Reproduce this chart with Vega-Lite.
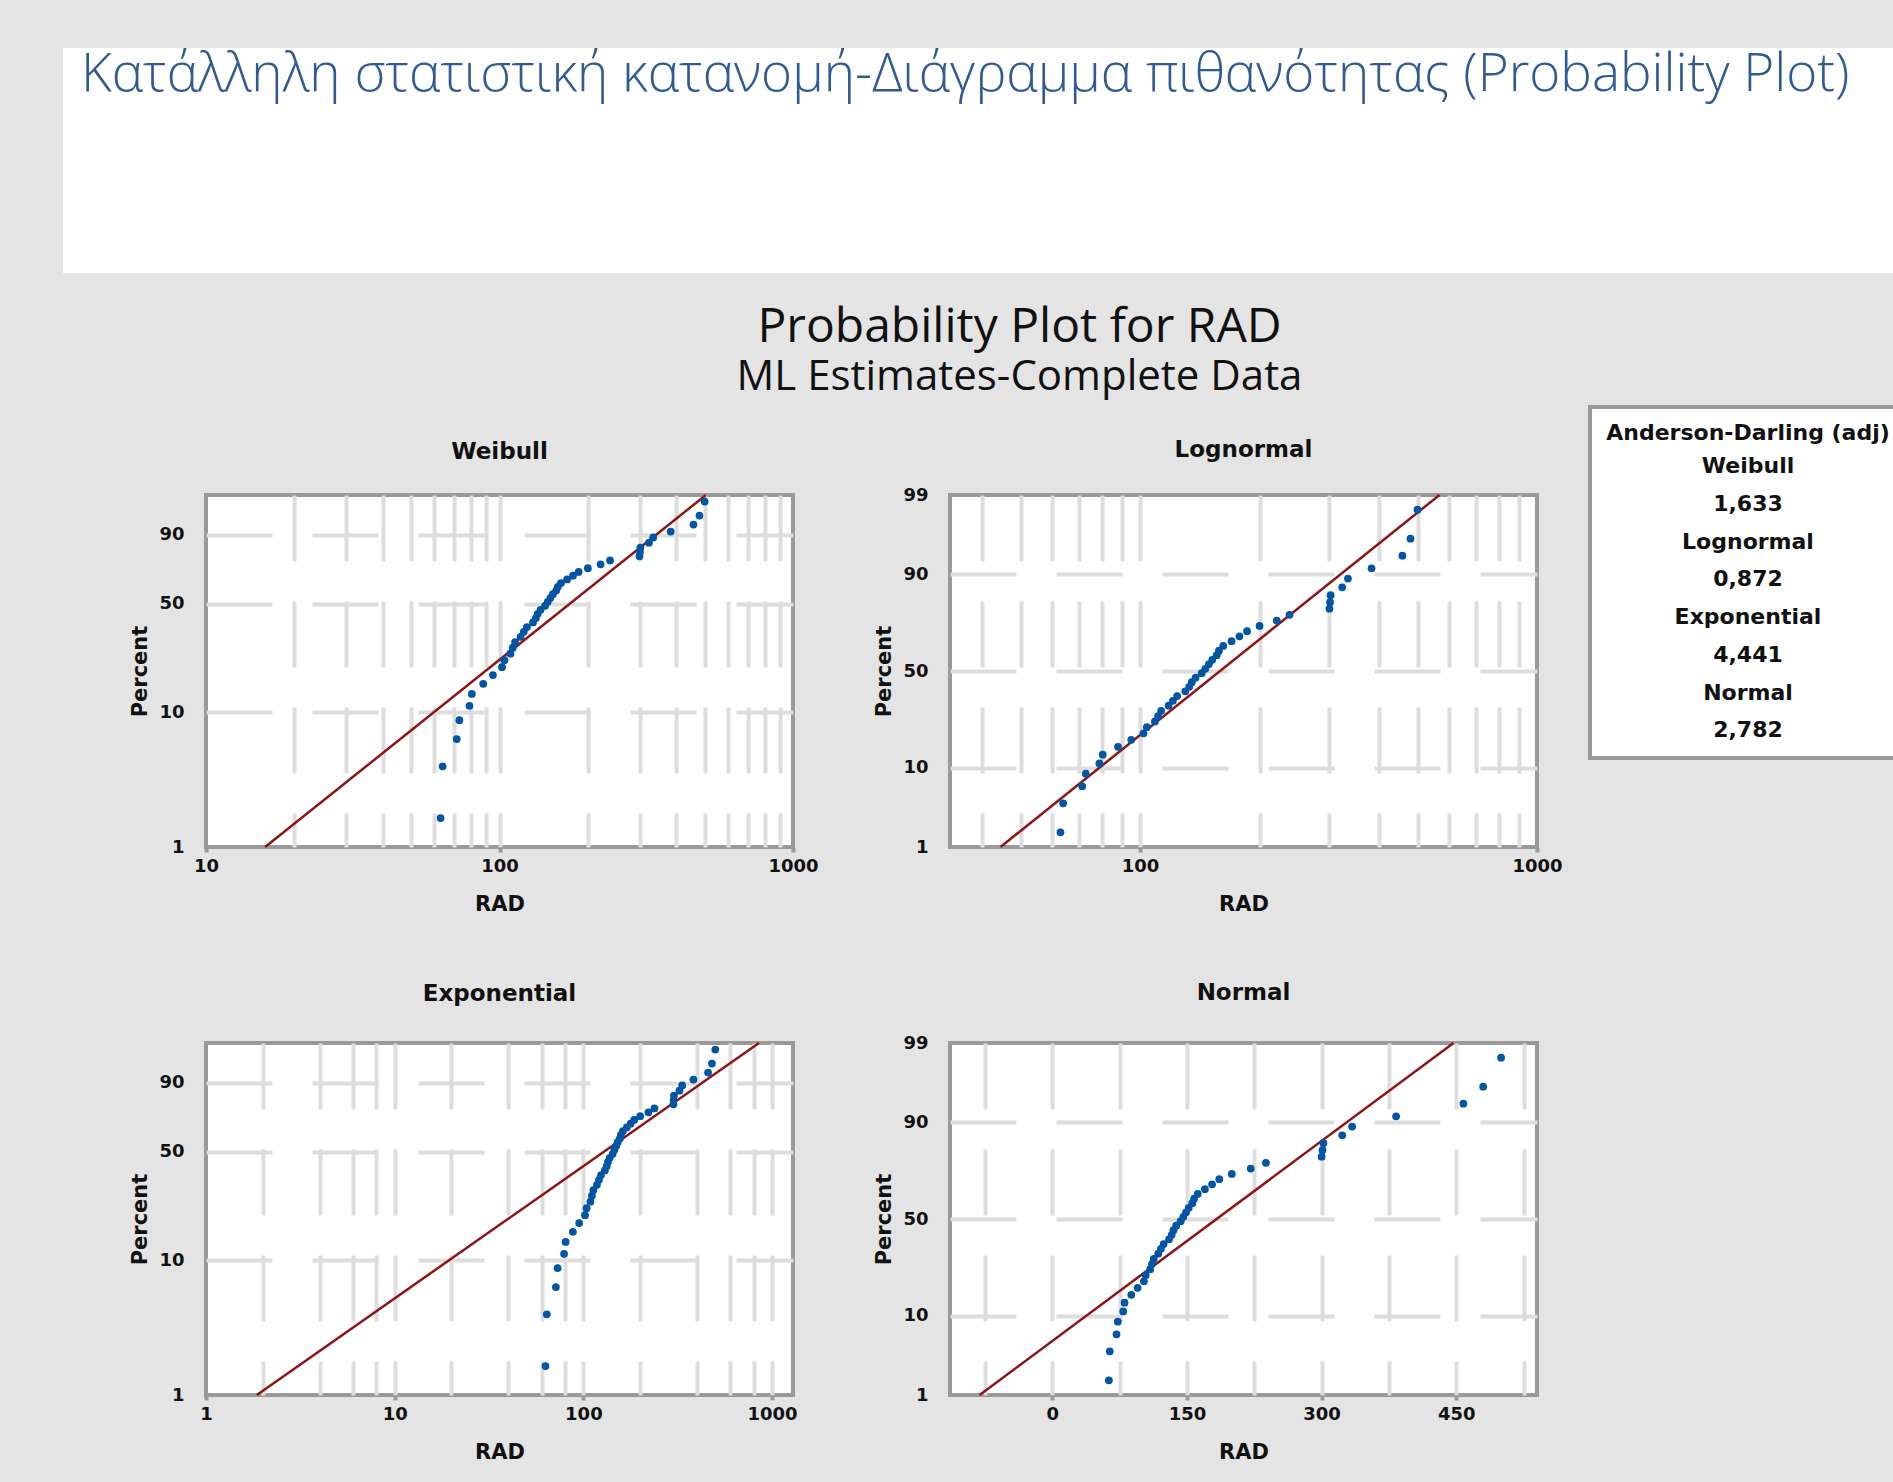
{
  "$schema": "https://vega.github.io/schema/vega-lite/v6.json",
  "autosize": "none",
  "padding": {"left": 63, "top": 48, "right": 1830, "bottom": 1434},
  "background": "#e4e4e4",
  "config": {
    "view": {"stroke": null},
    "font": "DejaVu Sans",
    "axis": {
      "labelFont": "DejaVu Sans", "labelFontWeight": "bold", "labelFontSize": 18, "labelColor": "#111111",
      "titleFont": "DejaVu Sans", "titleFontWeight": "bold", "titleFontSize": 21, "titleColor": "#111111",
      "domain": false, "gridColor": "#dddddd", "gridWidth": 4, "gridDash": [66, 40],
      "labelFlush": false, "labelOverlap": false, "tickColor": "#999999", "tickWidth": 4
    },
    "axisX": {"tickSize": 5, "labelPadding": 5, "titlePadding": 18},
    "axisY": {"ticks": false, "tickSize": 0, "labelPadding": 22, "titlePadding": 8}
  },
  "datasets": {
    "pts": [
      {"RAD": 63, "Percent": 1.65}, {"RAD": 64, "Percent": 4.01}, {"RAD": 71.5, "Percent": 6.37},
      {"RAD": 73, "Percent": 8.73}, {"RAD": 79, "Percent": 11.08}, {"RAD": 80.5, "Percent": 13.44},
      {"RAD": 88, "Percent": 15.8}, {"RAD": 95, "Percent": 18.16}, {"RAD": 102, "Percent": 20.52},
      {"RAD": 104, "Percent": 22.88}, {"RAD": 109, "Percent": 25.24}, {"RAD": 111, "Percent": 27.59},
      {"RAD": 113, "Percent": 29.95}, {"RAD": 118, "Percent": 32.31}, {"RAD": 121, "Percent": 34.67},
      {"RAD": 124, "Percent": 37.03}, {"RAD": 130, "Percent": 39.39}, {"RAD": 133, "Percent": 41.75},
      {"RAD": 135, "Percent": 44.1}, {"RAD": 138, "Percent": 46.46}, {"RAD": 143, "Percent": 48.82},
      {"RAD": 146, "Percent": 51.18}, {"RAD": 149, "Percent": 53.54}, {"RAD": 152, "Percent": 55.9},
      {"RAD": 156, "Percent": 58.25}, {"RAD": 158, "Percent": 60.61}, {"RAD": 162, "Percent": 62.97},
      {"RAD": 170, "Percent": 65.33}, {"RAD": 178, "Percent": 67.69}, {"RAD": 186, "Percent": 70.05},
      {"RAD": 200, "Percent": 72.41}, {"RAD": 221, "Percent": 74.76}, {"RAD": 238, "Percent": 77.12},
      {"RAD": 300, "Percent": 79.48}, {"RAD": 301, "Percent": 81.84}, {"RAD": 302, "Percent": 84.2},
      {"RAD": 323, "Percent": 86.56}, {"RAD": 334, "Percent": 88.92}, {"RAD": 383, "Percent": 91.27},
      {"RAD": 458, "Percent": 93.63}, {"RAD": 480, "Percent": 95.99}, {"RAD": 500, "Percent": 98.35}
    ],
    "fit": [
      {"dist": "W", "RAD": 15.9, "Percent": 1}, {"dist": "W", "RAD": 505, "Percent": 99},
      {"dist": "L", "RAD": 44.5, "Percent": 1}, {"dist": "L", "RAD": 568, "Percent": 99},
      {"dist": "E", "RAD": 1.86, "Percent": 1}, {"dist": "E", "RAD": 852, "Percent": 99},
      {"dist": "N", "RAD": -81, "Percent": 1}, {"dist": "N", "RAD": 447, "Percent": 99}
    ],
    "ad": [
      {"k": 1, "t": "Weibull"}, {"k": 2, "t": "1,633"},
      {"k": 3, "t": "Lognormal"}, {"k": 4, "t": "0,872"}, {"k": 5, "t": "Exponential"},
      {"k": 6, "t": "4,441"}, {"k": 7, "t": "Normal"}, {"k": 8, "t": "2,782"}
    ]
  },
  "columns": 6,
  "align": "each",
  "bounds": "flush",
  "spacing": {"row": 196, "column": 0},
  "concat": [
    {
      "width": 143, "height": 225,
      "view": {"fill": "#ffffff"},
      "title": {"text": "Probability Plot for RAD", "subtitle": "ML Estimates-Complete Data", "orient": "bottom", "anchor": "middle", "frame": "group", "offset": 69, "dx": 885, "baseline": "alphabetic", "font": "Open Sans", "fontSize": 48, "fontWeight": "normal", "color": "#111111", "subtitleFont": "Open Sans", "subtitleFontSize": 42, "subtitleColor": "#111111", "subtitlePadding": 0, "limit": 3000},
      "data": {"values": [{}]}, "mark": {"type": "point", "opacity": 0}, "encoding": {}
    },
    {"width": 587, "height": 225, "view": {"fill": "#ffffff"}, "data": {"values": [{}]}, "mark": {"type": "point", "opacity": 0}, "encoding": {}},
    {"width": 157, "height": 225, "view": {"fill": "#ffffff"}, "data": {"values": [{}]}, "mark": {"type": "point", "opacity": 0}, "encoding": {}},
    {"width": 587, "height": 225, "view": {"fill": "#ffffff"}, "data": {"values": [{}]}, "mark": {"type": "point", "opacity": 0}, "encoding": {}},
    {"width": 356, "height": 225, "view": {"fill": "#ffffff"}, "data": {"values": [{}]}, "mark": {"type": "point", "opacity": 0}, "encoding": {}},
    {
      "width": 1, "height": 251,
      "title": {"text": "Κατάλληλη στατιστική κατανομή-Διάγραμμα πιθανότητας (Probability Plot)", "orient": "bottom", "anchor": "start", "frame": "group", "offset": -208, "dx": -1812, "baseline": "alphabetic", "font": "Open Sans", "fontWeight": 300, "fontSize": 53, "color": "#2f5a96", "limit": 3000},
      "data": {"values": [{}]}, "mark": {"type": "point", "opacity": 0}, "encoding": {}
    },

    {"width": 143, "height": 1, "data": {"values": [{}]}, "mark": {"type": "point", "opacity": 0}, "encoding": {}},
    {
      "width": 587, "height": 352,
      "view": {"fill": "#ffffff", "stroke": "#999999", "strokeWidth": 4},
      "title": {"text": "Weibull", "offset": 8, "anchor": "middle", "frame": "group", "baseline": "alphabetic", "font": "DejaVu Sans", "fontWeight": "bold", "fontSize": 23, "color": "#111111"},
      "encoding": {
        "x": {"field": "RAD", "type": "quantitative", "scale": {"type": "log", "domain": [10, 1000], "nice": false},
          "axis": {"title": "RAD", "values": [10, 20, 30, 40, 50, 60, 70, 80, 90, 100, 200, 300, 400, 500, 600, 700, 800, 900, 1000],
            "labelExpr": "indexof([10,100,1000], datum.value) >= 0 ? format(datum.value, 'd') : ''",
            "tickOpacity": {"condition": {"test": "indexof([10,100,1000], datum.value) >= 0", "value": 1}, "value": 0},
            "gridOpacity": {"condition": {"test": "datum.value <= 10 || datum.value >= 1000", "value": 0}, "value": 1}}},
        "y": {"field": "Y", "type": "quantitative", "scale": {"domain": [-4.60015, 1.52718], "nice": false, "zero": false},
          "axis": {"title": "Percent", "values": [-4.60015, -2.25037, -0.36651, 0.83403],
            "labelExpr": "format(100*(1-exp(-exp(datum.value))), '.0f')",
            "gridOpacity": {"condition": {"test": "datum.value < -4.5", "value": 0}, "value": 1}}}
      },
      "layer": [
        {"data": {"name": "fit"}, "transform": [{"filter": "datum.dist == 'W'"}, {"calculate": "log(-log(1 - datum.Percent/100))", "as": "Y"}],
          "mark": {"type": "line", "color": "#8f1515", "strokeWidth": 2.5}},
        {"data": {"name": "pts"}, "transform": [{"calculate": "log(-log(1 - datum.Percent/100))", "as": "Y"}],
          "mark": {"type": "point", "shape": "circle", "filled": true, "size": 60, "color": "#0055a5", "opacity": 1}}
      ]
    },
    {
      "width": 157, "height": 1,
      "data": {"name": "ad"},
      "mark": {"type": "text", "opacity": 0},
      "encoding": {
        "text": {"field": "t", "type": "nominal"},
        "color": {"field": "t", "type": "nominal", "sort": {"field": "k", "op": "min"}, "scale": {"range": ["#111111"]},
          "legend": {"orient": "none", "legendX": 1527, "legendY": 359, "direction": "vertical",
            "title": "Anderson-Darling (adj)", "titleFont": "DejaVu Sans", "titleFontWeight": "bold", "titleFontSize": 22, "titleColor": "#111111",
            "titleAnchor": "middle", "titleAlign": "center", "titlePadding": 10, "titleLimit": 500,
            "labelFont": "DejaVu Sans", "labelFontWeight": "bold", "labelFontSize": 22, "labelColor": "#111111",
            "labelAlign": "center", "labelOffset": 52, "labelLimit": 500,
            "symbolSize": 0, "symbolOpacity": 0, "rowPadding": 15.75,
            "padding": 16, "fillColor": "#ffffff", "strokeColor": "#999999",
            "encode": {"legend": {"update": {"strokeWidth": {"value": 4}}}}}}
      }
    },
    {
      "width": 587, "height": 352,
      "view": {"fill": "#ffffff", "stroke": "#999999", "strokeWidth": 4},
      "title": {"text": "Lognormal", "offset": 6, "anchor": "middle", "frame": "group", "baseline": "alphabetic", "font": "DejaVu Sans", "fontWeight": "bold", "fontSize": 23, "color": "#111111"},
      "encoding": {
        "x": {"field": "RAD", "type": "quantitative", "scale": {"type": "log", "domain": [33.2, 1000], "nice": false},
          "axis": {"title": "RAD", "values": [40, 50, 60, 70, 80, 90, 100, 200, 300, 400, 500, 600, 700, 800, 900, 1000],
            "labelExpr": "indexof([100,1000], datum.value) >= 0 ? format(datum.value, 'd') : ''",
            "tickOpacity": {"condition": {"test": "indexof([100,1000], datum.value) >= 0", "value": 1}, "value": 0},
            "gridOpacity": {"condition": {"test": "datum.value >= 1000", "value": 0}, "value": 1}}},
        "y": {"field": "Y", "type": "quantitative", "scale": {"domain": [-2.32635, 2.32635], "nice": false, "zero": false},
          "axis": {"title": "Percent", "values": [-2.32635, -1.28155, 0, 1.28155, 2.32635],
            "labelExpr": "format(100*cumulativeNormal(datum.value), '.0f')",
            "gridOpacity": {"condition": {"test": "abs(datum.value) > 2", "value": 0}, "value": 1}}}
      },
      "layer": [
        {"data": {"name": "fit"}, "transform": [{"filter": "datum.dist == 'L'"}, {"calculate": "quantileNormal(datum.Percent/100)", "as": "Y"}],
          "mark": {"type": "line", "color": "#8f1515", "strokeWidth": 2.5}},
        {"data": {"name": "pts"}, "transform": [{"calculate": "quantileNormal(datum.Percent/100)", "as": "Y"}],
          "mark": {"type": "point", "shape": "circle", "filled": true, "size": 60, "color": "#0055a5", "opacity": 1}}
      ]
    },
    {"width": 1, "height": 1, "data": {"values": [{}]}, "mark": {"type": "point", "opacity": 0}, "encoding": {}},
    {"width": 1, "height": 1, "data": {"values": [{}]}, "mark": {"type": "point", "opacity": 0}, "encoding": {}},

    {"width": 143, "height": 1, "data": {"values": [{}]}, "mark": {"type": "point", "opacity": 0}, "encoding": {}},
    {
      "width": 587, "height": 352,
      "view": {"fill": "#ffffff", "stroke": "#999999", "strokeWidth": 4},
      "title": {"text": "Exponential", "offset": 14, "anchor": "middle", "frame": "group", "baseline": "alphabetic", "font": "DejaVu Sans", "fontWeight": "bold", "fontSize": 23, "color": "#111111"},
      "encoding": {
        "x": {"field": "RAD", "type": "quantitative", "scale": {"type": "log", "domain": [1, 1291], "nice": false},
          "axis": {"title": "RAD", "values": [1, 2, 4, 6, 8, 10, 20, 40, 60, 80, 100, 200, 400, 600, 800, 1000],
            "labelExpr": "indexof([1,10,100,1000], datum.value) >= 0 ? format(datum.value, 'd') : ''",
            "tickOpacity": {"condition": {"test": "indexof([1,10,100,1000], datum.value) >= 0", "value": 1}, "value": 0},
            "gridOpacity": {"condition": {"test": "datum.value <= 1", "value": 0}, "value": 1}}},
        "y": {"field": "Y", "type": "quantitative", "scale": {"domain": [-4.60015, 1.52718], "nice": false, "zero": false},
          "axis": {"title": "Percent", "values": [-4.60015, -2.25037, -0.36651, 0.83403],
            "labelExpr": "format(100*(1-exp(-exp(datum.value))), '.0f')",
            "gridOpacity": {"condition": {"test": "datum.value < -4.5", "value": 0}, "value": 1}}}
      },
      "layer": [
        {"data": {"name": "fit"}, "transform": [{"filter": "datum.dist == 'E'"}, {"calculate": "log(-log(1 - datum.Percent/100))", "as": "Y"}],
          "mark": {"type": "line", "color": "#8f1515", "strokeWidth": 2.5}},
        {"data": {"name": "pts"}, "transform": [{"calculate": "log(-log(1 - datum.Percent/100))", "as": "Y"}],
          "mark": {"type": "point", "shape": "circle", "filled": true, "size": 60, "color": "#0055a5", "opacity": 1}}
      ]
    },
    {"width": 157, "height": 1, "data": {"values": [{}]}, "mark": {"type": "point", "opacity": 0}, "encoding": {}},
    {
      "width": 587, "height": 352,
      "view": {"fill": "#ffffff", "stroke": "#999999", "strokeWidth": 4},
      "title": {"text": "Normal", "offset": 11, "anchor": "middle", "frame": "group", "baseline": "alphabetic", "font": "DejaVu Sans", "fontWeight": "bold", "fontSize": 23, "color": "#111111"},
      "encoding": {
        "x": {"field": "RAD", "type": "quantitative", "scale": {"domain": [-114, 540], "nice": false, "zero": false},
          "axis": {"title": "RAD", "values": [-75, 0, 75, 150, 225, 300, 375, 450, 525],
            "labelExpr": "datum.value % 150 == 0 ? format(datum.value, 'd') : ''",
            "tickOpacity": {"condition": {"test": "datum.value % 150 == 0", "value": 1}, "value": 0}}},
        "y": {"field": "Y", "type": "quantitative", "scale": {"domain": [-2.32635, 2.32635], "nice": false, "zero": false},
          "axis": {"title": "Percent", "values": [-2.32635, -1.28155, 0, 1.28155, 2.32635],
            "labelExpr": "format(100*cumulativeNormal(datum.value), '.0f')",
            "gridOpacity": {"condition": {"test": "abs(datum.value) > 2", "value": 0}, "value": 1}}}
      },
      "layer": [
        {"data": {"name": "fit"}, "transform": [{"filter": "datum.dist == 'N'"}, {"calculate": "quantileNormal(datum.Percent/100)", "as": "Y"}],
          "mark": {"type": "line", "color": "#8f1515", "strokeWidth": 2.5}},
        {"data": {"name": "pts"}, "transform": [{"calculate": "quantileNormal(datum.Percent/100)", "as": "Y"}],
          "mark": {"type": "point", "shape": "circle", "filled": true, "size": 60, "color": "#0055a5", "opacity": 1}}
      ]
    }
  ]
}
